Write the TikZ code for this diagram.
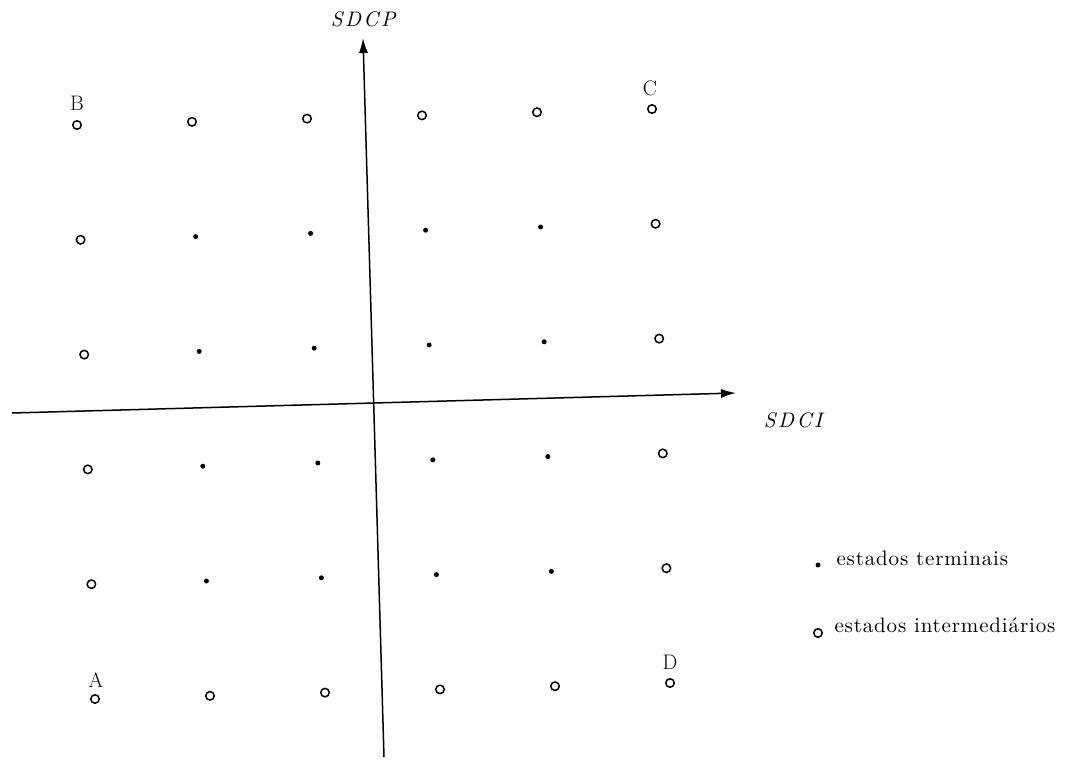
\documentclass[tikz,border=0pt]{standalone}
\usepackage{fontspec}
\usetikzlibrary{arrows.meta}
\newfontfamily\spacedA{lmroman10-regular.otf}[ItalicFont=lmroman10-italic.otf, LetterSpace=12]
\newfontfamily\spacedB{lmroman10-regular.otf}[LetterSpace=4]
\begin{document}
\begin{tikzpicture}[x=1pt,y=-1pt,
  term/.style={circle,fill=black,inner sep=0pt,minimum size=5pt},
  inter/.style={circle,draw=black,line width=1.5pt,inner sep=0pt,minimum size=8.5pt},
  lab/.style={font=\fontsize{21}{24}\selectfont},
  axlab/.style={font=\spacedA\fontsize{21}{24}\selectfont\itshape},
  leg/.style={font=\spacedB\fontsize{21}{24}\selectfont,anchor=base west},
  axis/.style={line width=1.5pt,-{Latex[length=15pt,width=9pt]}}]
\useasboundingbox (0,0) rectangle (1072,763);
\foreach \r in {0,...,5}{
  \foreach \c in {0,...,5}{
    \pgfmathsetmacro\px{77+115*\c+3.6*\r}
    \pgfmathsetmacro\py{125-3.2*\c+114.8*\r}
    \pgfmathtruncatemacro\isb{or(or(\r==0,\r==5),or(\c==0,\c==5))}
    \ifnum\isb=1
      \node[inter] (p-\r-\c) at (\px,\py) {};
    \else
      \node[term] (p-\r-\c) at (\px,\py) {};
    \fi
  }
}
\node[lab] (B) at (77,103) {B};
\node[lab] (C) at (650,88) {C};
\node[lab] (A) at (96,680) {A};
\node[lab] (D) at (670,662) {D};
\coordinate (ybot) at (384,757);
\coordinate (ytop) at (363,38);
\coordinate (xleft) at (12,413);
\coordinate (xright) at (736,393);
\draw[axis] (ybot) -- (ytop);
\draw[axis] (xleft) -- (xright);
\node[axlab] (SDCP) at (363,19) {SDCP};
\node[axlab] (SDCI) at (793,420) {SDCI};
\node[term] (lt) at (818,565) {};
\node[leg] (ltt) at (833,565) {estados terminais};
\node[inter] (li) at (818,633) {};
\node[leg] (lit) at (831,632) {estados intermediários};
\end{tikzpicture}
\end{document}
